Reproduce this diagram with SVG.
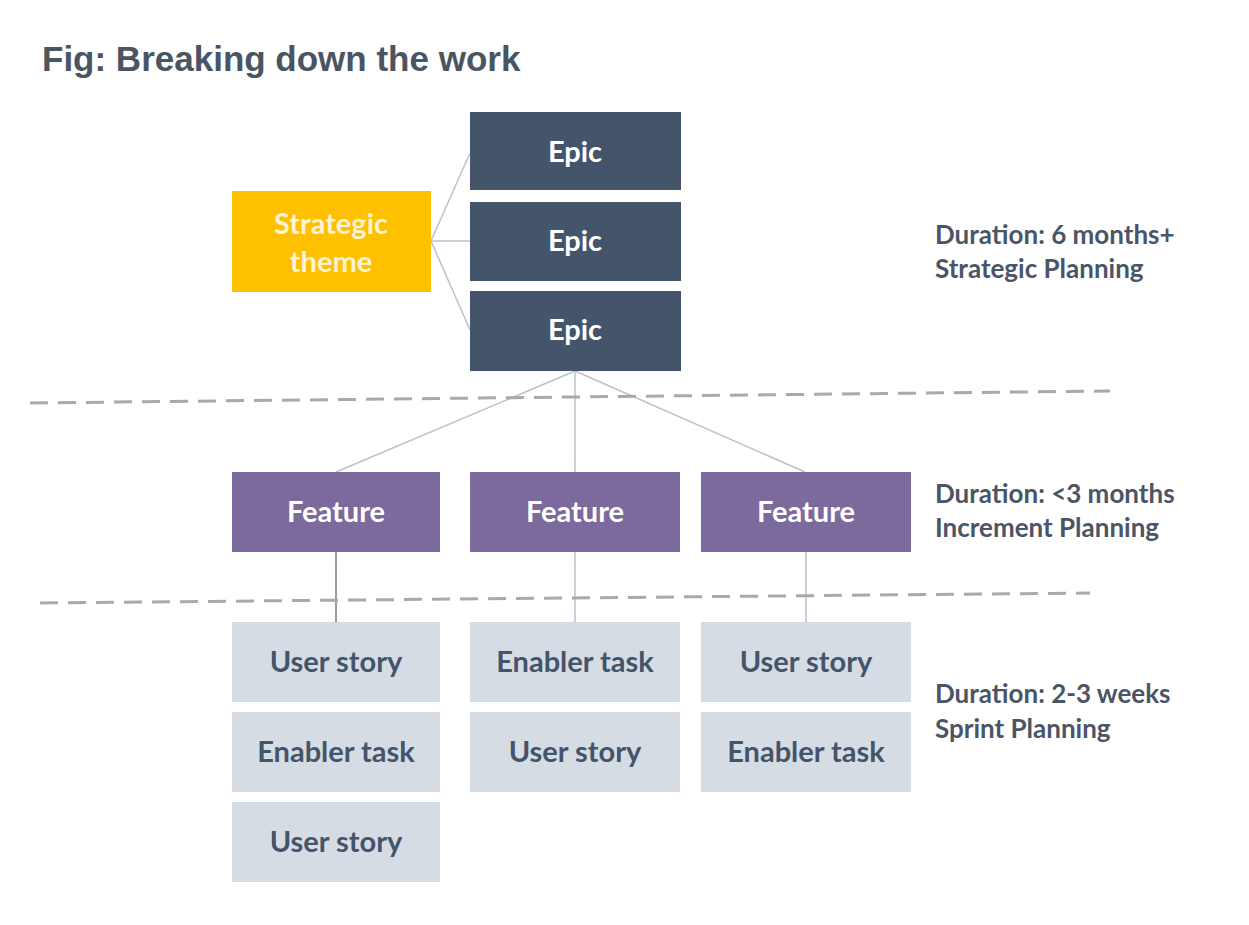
<svg xmlns="http://www.w3.org/2000/svg" width="1249" height="925" viewBox="0 0 1249 925">
<style>
.t{font-family:Lato,"Open Sans","Liberation Sans",sans-serif;font-weight:bold;text-anchor:middle}
.box-t{font-size:29px}
.w{fill:#ffffff}
.theme-t{fill:#fdf3d6}
.d{fill:#44546a}
.side{font-family:Lato,"Open Sans","Liberation Sans",sans-serif;font-weight:bold;font-size:26px;fill:#4a5566}
.epic{fill:#44546a}
.feat{fill:#7b6a9b}
.story{fill:#d6dce4}
.conn{stroke:#b8c2cf;stroke-width:1.5;fill:none}
.dash{stroke:#a9a9a9;stroke-width:3;stroke-dasharray:18 10;fill:none}
</style>
<rect width="1249" height="925" fill="#ffffff"/>
<text x="42" y="71" font-family="Liberation Sans,Arial,sans-serif" font-weight="bold" font-size="35" fill="#4a5563">Fig: Breaking down the work</text>

<g id="connectors">
<line class="conn" x1="431" y1="241" x2="470" y2="153"/>
<line class="conn" x1="431" y1="241" x2="470" y2="241"/>
<line class="conn" x1="431" y1="241" x2="470" y2="330"/>
<line class="conn" x1="575" y1="371" x2="336" y2="472"/>
<line class="conn" x1="575" y1="371" x2="575" y2="472"/>
<line class="conn" x1="575" y1="371" x2="805" y2="472"/>
<line x1="336" y1="552" x2="336" y2="622" stroke="#555b66" stroke-width="1.2"/>
<line class="conn" x1="575" y1="552" x2="575" y2="622"/>
<line class="conn" x1="806" y1="552" x2="806" y2="622"/>
</g>

<g id="dividers">
<line class="dash" x1="30" y1="403" x2="1110" y2="391"/>
<line class="dash" x1="40" y1="603" x2="1090" y2="593"/>
</g>

<g id="strategic-theme">
<rect x="232" y="191" width="199" height="101" fill="#ffc000"/>
<text class="t box-t theme-t" x="331" y="234">Strategic</text>
<text class="t box-t theme-t" x="331" y="272">theme</text>
</g>

<g id="epic-1"><rect class="epic" x="470" y="112" width="211" height="78"/><text class="t box-t w" x="575" y="162">Epic</text></g>
<g id="epic-2"><rect class="epic" x="470" y="202" width="211" height="79"/><text class="t box-t w" x="575" y="251">Epic</text></g>
<g id="epic-3"><rect class="epic" x="470" y="291" width="211" height="80"/><text class="t box-t w" x="575" y="340">Epic</text></g>

<g id="feature-1"><rect class="feat" x="232" y="472" width="208" height="80"/><text class="t box-t w" x="336" y="522">Feature</text></g>
<g id="feature-2"><rect class="feat" x="470" y="472" width="210" height="80"/><text class="t box-t w" x="575" y="522">Feature</text></g>
<g id="feature-3"><rect class="feat" x="701" y="472" width="210" height="80"/><text class="t box-t w" x="806" y="522">Feature</text></g>

<g id="c1-r1"><rect class="story" x="232" y="622" width="208" height="80"/><text class="t box-t d" x="336" y="672">User story</text></g>
<g id="c1-r2"><rect class="story" x="232" y="712" width="208" height="80"/><text class="t box-t d" x="336" y="762">Enabler task</text></g>
<g id="c1-r3"><rect class="story" x="232" y="802" width="208" height="80"/><text class="t box-t d" x="336" y="852">User story</text></g>
<g id="c2-r1"><rect class="story" x="470" y="622" width="210" height="80"/><text class="t box-t d" x="575" y="672">Enabler task</text></g>
<g id="c2-r2"><rect class="story" x="470" y="712" width="210" height="80"/><text class="t box-t d" x="575" y="762">User story</text></g>
<g id="c3-r1"><rect class="story" x="701" y="622" width="210" height="80"/><text class="t box-t d" x="806" y="672">User story</text></g>
<g id="c3-r2"><rect class="story" x="701" y="712" width="210" height="80"/><text class="t box-t d" x="806" y="762">Enabler task</text></g>

<g id="label-strategic">
<text class="side" x="935" y="244">Duration: 6 months+</text>
<text class="side" x="935" y="278">Strategic Planning</text>
</g>
<g id="label-increment">
<text class="side" x="935" y="503">Duration: &lt;3 months</text>
<text class="side" x="935" y="537">Increment Planning</text>
</g>
<g id="label-sprint">
<text class="side" x="935" y="703">Duration: 2-3 weeks</text>
<text class="side" x="935" y="738">Sprint Planning</text>
</g>
</svg>
